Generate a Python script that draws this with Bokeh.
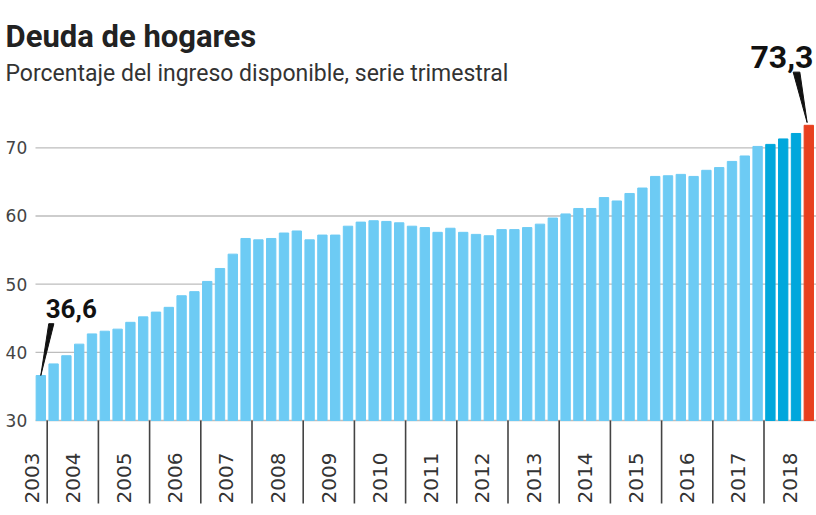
import math
from bokeh.plotting import figure
from bokeh.models import ColumnDataSource, Label
from bokeh.core.properties import value
from bokeh.embed import file_html
from bokeh.resources import INLINE

# ---------------- data ----------------
title_text = "Deuda de hogares"
subtitle_text = "Porcentaje del ingreso disponible, serie trimestral"
years = [str(y) for y in range(2003, 2019)]
quarters_per_year = [1] + [4] * 15          # series starts in 2003 Q4
debt = [
    36.6,                                     # 2003
    38.3, 39.5, 41.2, 42.7,                   # 2004
    43.1, 43.4, 44.4, 45.2,                   # 2005
    45.9, 46.6, 48.3, 48.9,                   # 2006
    50.4, 52.3, 54.4, 56.7,                   # 2007
    56.5, 56.7, 57.5, 57.8,                   # 2008
    56.5, 57.2, 57.2, 58.5,                   # 2009
    59.1, 59.3, 59.2, 59.0,                   # 2010
    58.5, 58.3, 57.6, 58.2,                   # 2011
    57.6, 57.3, 57.1, 58.0,                   # 2012
    58.0, 58.3, 58.8, 59.7,                   # 2013
    60.3, 61.1, 61.1, 62.7,                   # 2014
    62.2, 63.3, 64.1, 65.8,                   # 2015
    65.9, 66.1, 65.8, 66.7,                   # 2016
    67.1, 68.0, 68.8, 70.2,                   # 2017
    70.5, 71.3, 72.1, 73.3,                   # 2018
]
series = ["hist"] * 57 + ["reciente"] * 3 + ["ultimo"]
yticks = [30, 40, 50, 60, 70]

# ---------------- layout / styles ----------------
palette = {"hist": "#6dcbf4", "reciente": "#00a7dc", "ultimo": "#e8401f"}
W, H = 816, 515
PX_X = 12.8                  # px per quarter
PX_Y = 6.8175                # px per percentage point
X0 = -40.3 / PX_X            # frame left
X1 = X0 + W / PX_X
BASE = 30                    # value at baseline (canvas y = 420)
Y1 = BASE + 420 / PX_Y
Y0 = BASE - (H - 420) / PX_Y
SEP = 83 / PX_Y              # separator length below the baseline
GRID_X0 = -0.414

x = list(range(len(debt)))
src = ColumnDataSource(dict(x=x, top=debt, color=[palette[s] for s in series]))

p = figure(width=W, height=H, x_range=(X0, X1), y_range=(Y0, Y1),
           output_backend="svg", toolbar_location=None,
           x_axis_location=None, y_axis_location=None,
           min_border=0)
p.outline_line_color = None
p.background_fill_color = "white"
p.border_fill_color = "white"
p.grid.visible = False

# horizontal grid lines (drawn under the bars)
p.segment(x0=[GRID_X0] * len(yticks), x1=[X1] * len(yticks), y0=yticks, y1=yticks,
          line_color="#bdbdbd", line_width=1.3)

p.vbar(x="x", top="top", bottom=BASE, width=0.73, color="color", source=src)

# y tick labels
p.text(x=[-1.06] * len(yticks), y=yticks, text=[str(t) for t in yticks],
       text_align="right", text_baseline="middle", text_font=value("DejaVu Sans"),
       text_font_size="17px", text_color="#444444")

# year separators and year labels
centers, bounds = [], []
pos = 0
for i, n in enumerate(quarters_per_year):
    start, end = pos - 0.5, pos + n - 0.5
    centers.append((start + end) / 2 if n == 4 else start - 0.17)
    if i > 0:
        bounds.append(start)
    pos += n
p.segment(x0=bounds, x1=bounds, y0=[BASE] * len(bounds), y1=[BASE - SEP] * len(bounds),
          line_color="#444444", line_width=1.6)
p.text(x=centers, y=[BASE - 32 / PX_Y] * len(centers), text=years, angle=math.pi / 2,
       text_align="right", text_baseline="middle", text_font=value("DejaVu Sans"),
       text_font_size="20px", text_color="#333333")

# pointers and value labels for first and last observation
def fmt(v):
    return f"{v:.1f}".replace(".", ",")

fx, fy = x[0], debt[0]
lx, ly = x[-1], debt[-1]
p.patch([fx, fx + 0.62, fx + 1.02], [fy, fy + 7.6, fy + 7.6], color="#111111")
p.patch([lx - 0.13, lx - 1.22, lx - 0.70], [ly + 0.4, ly + 7.8, ly + 7.8], color="#111111")

p.add_layout(Label(x=fx + 2.38, y=fy + 9.83, text=fmt(fy), text_align="center",
                   text_baseline="alphabetic", text_font="Roboto", text_font_style="bold",
                   text_font_size="26px", text_color="#111111"))
p.add_layout(Label(x=lx - 2.1, y=ly + 10.09, text=fmt(ly), text_align="center",
                   text_baseline="alphabetic", text_font="Roboto", text_font_style="bold",
                   text_font_size="32px", text_color="#111111"))

# title & subtitle
p.add_layout(Label(x=5, y=479, x_units="screen", y_units="screen", text=title_text,
                   text_font="Roboto", text_font_style="bold", text_font_size="31px",
                   text_color="#222222", text_baseline="alphabetic"))
p.add_layout(Label(x=5, y=442, x_units="screen", y_units="screen", text=subtitle_text,
                   text_font="Roboto", text_font_size="23px",
                   text_color="#333333", text_baseline="alphabetic"))

open("out.html", "w").write(file_html(p, INLINE))
